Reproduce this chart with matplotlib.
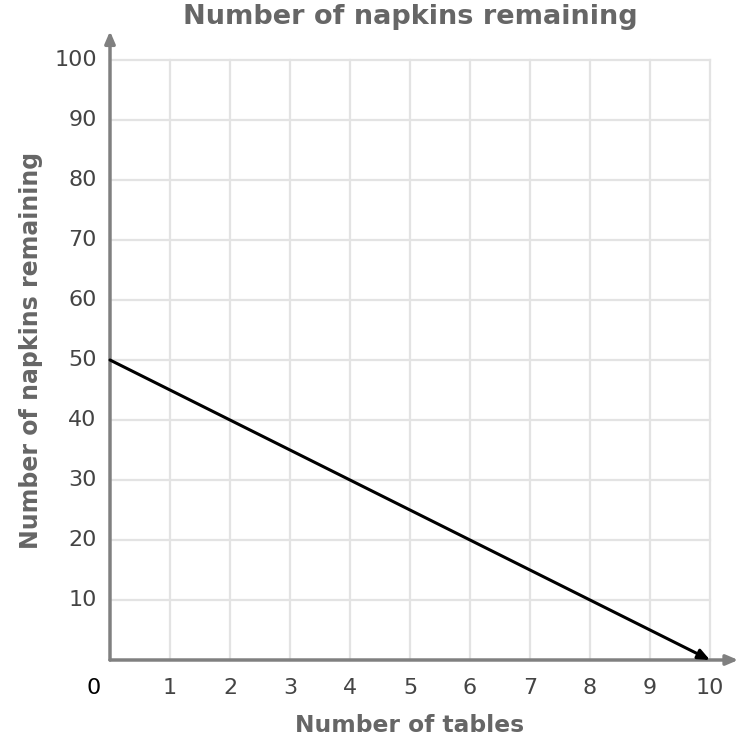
import matplotlib.pyplot as plt

# data
x_vals = [0, 10]
y_vals = [50, 0]
x_ticks = [1, 2, 3, 4, 5, 6, 7, 8, 9, 10]
y_ticks = [10, 20, 30, 40, 50, 60, 70, 80, 90, 100]
title = "Number of napkins remaining"
xlabel = "Number of tables"
ylabel = "Number of napkins remaining"

W, H = 742, 744
fig = plt.figure(figsize=(W / 100, H / 100), dpi=100)
ax = fig.add_axes([110 / W, (H - 660) / H, 600 / W, 600 / H])
ax.set_xlim(0, 10)
ax.set_ylim(0, 100)
ax.axis("off")

grid_c = "#e3e3e3"
for xv in x_ticks:
    ax.plot([xv, xv], [0, 100], color=grid_c, lw=1.6, clip_on=False, zorder=1)
for yv in y_ticks:
    ax.plot([0, 10], [yv, yv], color=grid_c, lw=1.6, clip_on=False, zorder=1)

axis_c = "#808080"
ax.annotate("", xy=(10.47, 0), xytext=(0, 0), annotation_clip=False,
            arrowprops=dict(arrowstyle="-|>,head_length=0.7,head_width=0.3",
                            color=axis_c, lw=2.5, shrinkA=0, shrinkB=0), zorder=2)
ax.annotate("", xy=(0, 104.8), xytext=(0, 0), annotation_clip=False,
            arrowprops=dict(arrowstyle="-|>,head_length=0.7,head_width=0.3",
                            color=axis_c, lw=2.5, shrinkA=0, shrinkB=0), zorder=2)

# the line
ax.annotate("", xy=(x_vals[1], y_vals[1]), xytext=(x_vals[0], y_vals[0]),
            annotation_clip=False,
            arrowprops=dict(arrowstyle="-|>,head_length=0.7,head_width=0.3",
                            color="black", lw=2.2, shrinkA=0, shrinkB=0), zorder=3)

tick_c = "#444444"
for xv in x_ticks:
    ax.text(xv, -4.7, str(xv), ha="center", va="center", fontsize=16, color=tick_c)
ax.text(-0.28, -4.7, "0", ha="center", va="center", fontsize=16, color="black")
for yv in y_ticks:
    ax.text(-0.22, yv, str(yv), ha="right", va="center", fontsize=16, color=tick_c)

fig.text(410 / W, 1 - 17 / H, title, ha="center", va="center", fontsize=19.5,
         fontweight="bold", color="#666666")
fig.text(410 / W, 1 - 725 / H, xlabel, ha="center", va="center", fontsize=16.8,
         fontweight="bold", color="#666666")
fig.text(31 / W, 1 - 350 / H, ylabel, ha="center", va="center", fontsize=17,
         fontweight="bold", color="#666666", rotation=90)

fig.savefig("out.png", dpi=100)
